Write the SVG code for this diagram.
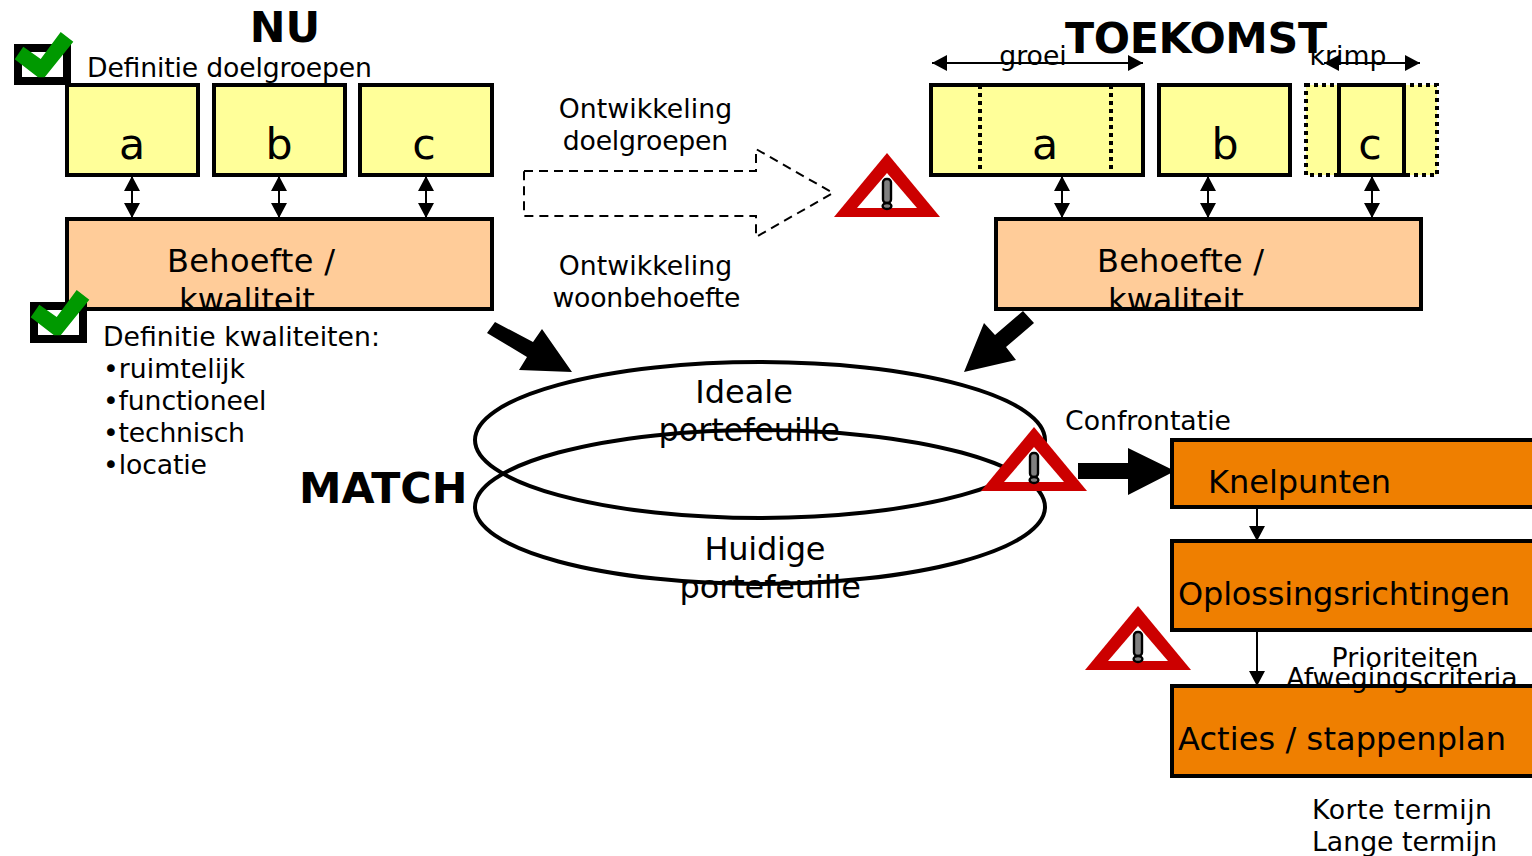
<svg xmlns="http://www.w3.org/2000/svg" width="1532" height="856" viewBox="0 0 1532 856">
<style>
text{font-family:"DejaVu Sans",sans-serif;fill:#000}
.t{font-size:26.7px}.m{font-size:32px}.l{font-size:42.7px}.h{font-size:42.7px;font-weight:bold}
.mid{text-anchor:middle}
.y{fill:#ffff99;stroke:#000;stroke-width:4}
.p{fill:#ffcc99;stroke:#000;stroke-width:4}
.o{fill:#ef7f00;stroke:#000;stroke-width:4}
.e{fill:none;stroke:#000;stroke-width:4}
.ln{fill:none;stroke:#000;stroke-width:2}
.dbl{marker-start:url(#ah);marker-end:url(#ah)}
.sgl{marker-end:url(#ah)}
.dot{fill:none;stroke:#000;stroke-width:4;stroke-dasharray:4 4}
</style>
<defs>
<marker id="ah" markerUnits="userSpaceOnUse" markerWidth="16" markerHeight="16" refX="15" refY="8" orient="auto-start-reverse"><path d="M0,0L15,8L0,16Z"/></marker>
<g id="warn">
<path d="M0,0L53,64H-53Z" fill="#cc0000"/>
<path d="M0,20L30,55H-30Z" fill="#fff"/>
<rect x="-4" y="26" width="8" height="24" rx="3.5" fill="#808080" stroke="#000" stroke-width="2.4"/>
<ellipse cx="0" cy="53" rx="4.4" ry="3" fill="#808080" stroke="#000" stroke-width="2.4"/>
</g>
<g id="chk">
<rect x="18" y="48" width="49" height="33" fill="#fff" stroke="#000" stroke-width="8"/>
<path d="M14.7,59.3L23.3,46.7L40.7,59L60.7,32L73.3,41.7L44.7,77.3H38Z" fill="#009900"/>
</g>
</defs>
<g id="connectors">
<path class="ln dbl" d="M132,176V218"/>
<path class="ln dbl" d="M279,176V218"/>
<path class="ln dbl" d="M426,176V218"/>
<path class="ln dbl" d="M1062,176V218"/>
<path class="ln dbl" d="M1208,176V218"/>
<path class="ln dbl" d="M1372,176V218"/>
<path class="ln dbl" d="M932,63H1143"/>
<path class="ln dbl" d="M1324,63H1420"/>
<path class="ln sgl" d="M1257,508V541"/>
<path class="ln sgl" d="M1257,631V686"/>
<path d="M524,171H756V149L833,193L756,237V216H524Z" fill="none" stroke="#000" stroke-width="2" stroke-dasharray="9 6"/>
<path d="M495,322L533,342L542,329L572,372L519,370L527,357L487,333Z"/>
<path d="M1023,311L1034,323L1006,347L1016,360L964,372L984,323L995,335Z"/>
<path d="M1078,463H1128V448L1175,471L1128,495V479H1078Z"/>
</g>
<g id="nu"><text class="h mid" x="285" y="42">NU</text></g>
<g id="toekomst"><text class="h mid" x="1196" y="53" textLength="262">TOEKOMST</text></g>
<g id="match"><text class="h" x="299" y="503">MATCH</text></g>
<g id="check1"><use href="#chk"/></g>
<g id="label-doelgroepen"><text class="t" x="87" y="77" textLength="285">Definitie doelgroepen</text></g>
<g id="a1"><rect class="y" x="67" y="85" width="131" height="90"/><text class="l mid" x="132" y="159">a</text></g>
<g id="b1"><rect class="y" x="214" y="85" width="131" height="90"/><text class="l mid" x="279" y="159">b</text></g>
<g id="c1"><rect class="y" x="360" y="85" width="132" height="90"/><text class="l mid" x="424" y="159">c</text></g>
<g id="behoefte1"><rect class="p" x="67" y="219" width="425" height="90"/><text class="m" x="167" y="272" textLength="168">Behoefte /</text><text class="m mid" x="247" y="311">kwaliteit</text></g>
<g id="check2"><use href="#chk" x="16" y="258"/></g>
<g id="kwaliteiten">
<text class="t" x="103" y="346" textLength="277">Definitie kwaliteiten:</text>
<text class="t" x="103" y="378" textLength="142">•ruimtelijk</text>
<text class="t" x="103" y="410" textLength="163.4">•functioneel</text>
<text class="t" x="103" y="442" textLength="142">•technisch</text>
<text class="t" x="103" y="474" textLength="104">•locatie</text>
</g>
<g id="ontw1"><text class="t mid" x="645.5" y="118" textLength="173.5">Ontwikkeling</text><text class="t mid" x="645.5" y="150" textLength="165.5">doelgroepen</text></g>
<g id="ontw2"><text class="t mid" x="645.5" y="275" textLength="173.5">Ontwikkeling</text><text class="t mid" x="646.5" y="307" textLength="188">woonbehoefte</text></g>
<g id="warn1"><use href="#warn" x="887" y="153"/></g>
<g id="a2"><rect class="y" x="931" y="85" width="212" height="90"/><path class="dot" d="M980,85V175M1111,85V175"/><text class="l mid" x="1045" y="159">a</text></g>
<g id="b2"><rect class="y" x="1159" y="85" width="131" height="90"/><text class="l mid" x="1225" y="159">b</text></g>
<g id="c2"><rect x="1306" y="85" width="131" height="90" fill="#ffff99" stroke="#000" stroke-width="4" stroke-dasharray="4 4"/><rect class="y" x="1339" y="85" width="65" height="90"/><text class="l mid" x="1370" y="159">c</text></g>
<g id="groei"><text class="t mid" x="1033" y="65">groei</text></g>
<g id="krimp"><text class="t mid" x="1348" y="65">krimp</text></g>
<g id="behoefte2"><rect class="p" x="996" y="219" width="425" height="90"/><text class="m" x="1097" y="272" textLength="167">Behoefte /</text><text class="m mid" x="1176" y="311">kwaliteit</text></g>
<g id="ideaal"><ellipse class="e" cx="760" cy="440" rx="285" ry="78"/><text class="m mid" x="744" y="403">Ideale</text><text class="m" x="658.5" y="441" textLength="181.5">portefeuille</text></g>
<g id="huidig"><ellipse class="e" cx="760" cy="507" rx="285" ry="77"/><text class="m mid" x="765" y="560" textLength="121">Huidige</text><text class="m" x="679.5" y="598" textLength="181.5">portefeuille</text></g>
<g id="warn2"><use href="#warn" x="1034" y="427"/></g>
<g id="confrontatie"><text class="t" x="1065" y="430">Confrontatie</text></g>
<g id="knelpunten"><rect class="o" x="1172" y="440" width="370" height="67"/><text class="m" x="1208" y="493" textLength="183">Knelpunten</text></g>
<g id="oplossing"><rect class="o" x="1172" y="541" width="370" height="89"/><text class="m" x="1178" y="605" textLength="332">Oplossingsrichtingen</text></g>
<g id="warn3"><use href="#warn" x="1138" y="606"/></g>
<g id="acties"><rect class="o" x="1172" y="686" width="370" height="90"/><text class="m" x="1178" y="750" textLength="328">Acties / stappenplan</text></g>
<g id="prio"><text class="t mid" x="1405" y="667">Prioriteiten</text><text class="t mid" x="1402" y="687">Afwegingscriteria</text></g>
<g id="termijn"><text class="t" x="1312" y="819" textLength="180">Korte termijn</text><text class="t" x="1312" y="851">Lange termijn</text></g>
</svg>
